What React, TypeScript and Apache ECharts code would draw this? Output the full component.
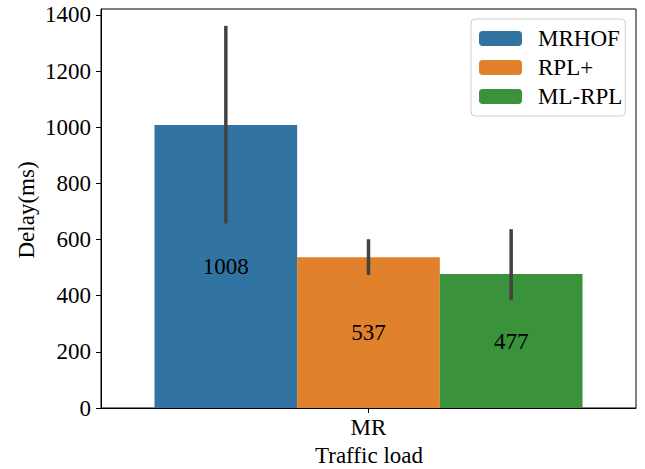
import React, { useEffect, useRef } from "react";
import * as echarts from "echarts";

const categories = ["MR"];
const seriesNames = ["MRHOF", "RPL+", "ML-RPL"];
const meanValues = [1008, 537, 477];
const ciLow = [657, 474, 384];
const ciHigh = [1361, 601, 637];
const colors = ["#3274A1", "#E1812C", "#3A923A"];
const yTicks = [0, 200, 400, 600, 800, 1000, 1200, 1400];

const FONT = "'Liberation Serif', 'DejaVu Serif', serif";
const FS = 23;

export default function App() {
  const ref = useRef<HTMLDivElement>(null);
  useEffect(() => {
    if (!ref.current) return;
    const chart = echarts.init(ref.current, null, { renderer: "svg" });
    const barSeries = seriesNames.map((name, i) => ({
      name,
      type: "bar",
      data: [meanValues[i]],
      itemStyle: { color: colors[i] },
      barGap: "0%",
      barCategoryGap: "20%",
      label: {
        show: true,
        position: "inside",
        color: "#000",
        fontSize: FS,
        fontFamily: FONT,
        formatter: (p: any) => String(p.value),
      },
    }));
    const errData = seriesNames.map((_, i) => [0, ciLow[i], ciHigh[i], i]);
    const option: any = {
      animation: false,
      backgroundColor: "#fff",
      grid: { left: 101, right: 9, top: 9, bottom: 61, show: true, borderColor: "#000", borderWidth: 1, backgroundColor: "transparent" },
      xAxis: {
        type: "category",
        data: categories,
        axisLine: { lineStyle: { color: "#000", width: 1 } },
        axisTick: { show: true, alignWithLabel: true, length: 5, lineStyle: { color: "#000" } },
        axisLabel: { color: "#000", fontSize: FS, fontFamily: FONT, margin: 8 },
        splitLine: { show: false },
      },
      yAxis: {
        type: "value",
        min: 0,
        max: 1421,
        interval: 200,
        axisLine: { show: true, lineStyle: { color: "#000", width: 1 } },
        axisTick: { show: true, length: 5, lineStyle: { color: "#000" }, customValues: yTicks },
        axisLabel: {
          color: "#000",
          fontSize: FS,
          fontFamily: FONT,
          margin: 10,
          customValues: yTicks,
          formatter: (v: number) => String(v),
        },
        splitLine: { show: false },
      },
      legend: {
        data: seriesNames,
        orient: "vertical",
        left: 471,
        top: 19,
        itemWidth: 43,
        itemHeight: 15,
        itemGap: 6,
        padding: [8, 3, 8, 8],
        borderColor: "#cccccc",
        borderWidth: 1,
        borderRadius: 4,
        backgroundColor: "rgba(255,255,255,0.8)",
        textStyle: { color: "#000", fontSize: FS, fontFamily: FONT, padding: [0, 0, 0, 11] },
        selectedMode: false,
      },
      graphic: [
        {
          type: "text",
          x: 26,
          y: 210,
          rotation: Math.PI / 2,
          style: { text: "Delay(ms)", fill: "#000", font: `${FS}px ${FONT}`, align: "center", verticalAlign: "middle" },
        },
        {
          type: "text",
          x: 369,
          y: 455,
          style: { text: "Traffic load", fill: "#000", font: `${FS}px ${FONT}`, align: "center", verticalAlign: "middle" },
        },
      ],
      series: [
        ...barSeries,
        {
          type: "custom",
          name: "err",
          z: 10,
          data: errData,
          encode: { x: 0, y: [1, 2] },
          renderItem: (params: any, api: any) => {
            const cat = api.value(0);
            const lo = api.value(1);
            const hi = api.value(2);
            const idx = api.value(3);
            const p1 = api.coord([cat, lo]);
            const p2 = api.coord([cat, hi]);
            const bandW = api.size([1, 0])[0];
            const barW = (bandW * 0.8) / 3;
            const x = p1[0] + (idx - 1) * barW;
            return {
              type: "line",
              shape: { x1: x, y1: p1[1], x2: x, y2: p2[1] },
              style: { stroke: "#424242", lineWidth: 3.5 },
            };
          },
        },
      ],
    };
    chart.setOption(option);
    return () => chart.dispose();
  }, []);
  return <div ref={ref} style={{ width: 645, height: 469, position: "absolute", left: 0, top: 0 }} />;
}
